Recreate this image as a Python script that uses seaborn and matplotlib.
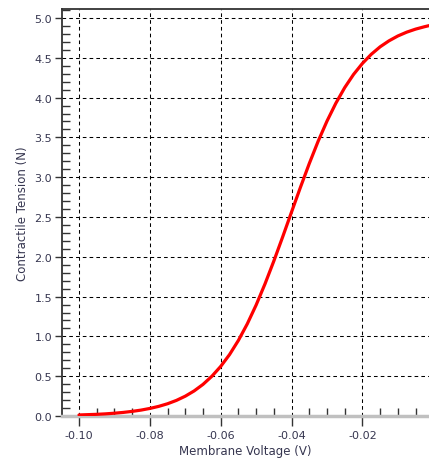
import matplotlib
matplotlib.use("Agg")
import matplotlib.pyplot as plt
import seaborn as sns
import pandas as pd
from matplotlib.ticker import MultipleLocator

# Data
voltage = [-0.1000, -0.0975, -0.0950, -0.0925, -0.0900, -0.0875, -0.0850, -0.0825,
           -0.0800, -0.0775, -0.0750, -0.0725, -0.0700, -0.0675, -0.0650, -0.0625,
           -0.0600, -0.0575, -0.0550, -0.0525, -0.0500, -0.0475, -0.0450, -0.0425,
           -0.0400, -0.0375, -0.0350, -0.0325, -0.0300, -0.0275, -0.0250, -0.0225,
           -0.0200, -0.0175, -0.0150, -0.0125, -0.0100, -0.0075, -0.0050, -0.0025,
           -0.0012]
tension = [0.013, 0.017, 0.021, 0.027, 0.035, 0.045, 0.058, 0.074,
           0.095, 0.121, 0.154, 0.196, 0.249, 0.315, 0.397, 0.499,
           0.623, 0.772, 0.950, 1.157, 1.394, 1.659, 1.947, 2.251,
           2.563, 2.872, 3.171, 3.451, 3.704, 3.929, 4.125, 4.291,
           4.429, 4.544, 4.638, 4.713, 4.774, 4.822, 4.860, 4.890,
           4.904]
x_ticks = [-0.10, -0.08, -0.06, -0.04, -0.02]
x_ticklabels = ["-0.10", "-0.08", "-0.06", "-0.04", "-0.02"]
y_ticks = [0.0, 0.5, 1.0, 1.5, 2.0, 2.5, 3.0, 3.5, 4.0, 4.5, 5.0]
y_ticklabels = ["0.0", "0.5", "1.0", "1.5", "2.0", "2.5", "3.0", "3.5", "4.0", "4.5", "5.0"]

df = pd.DataFrame({"Membrane Voltage (V)": voltage, "Contractile Tension (N)": tension})

sns.set_style("white")
plt.rcParams["font.family"] = ["DejaVu Sans"]
plt.rcParams["axes.unicode_minus"] = False

fig = plt.figure(figsize=(4.29, 4.60), dpi=100)
ax = fig.add_axes([62/429, 43/460, 367/429, 407/460])

sns.lineplot(data=df, x="Membrane Voltage (V)", y="Contractile Tension (N)",
             color="#ff0000", linewidth=2.3, ax=ax, zorder=5)

ax.set_xlim(-0.1048, -0.0012)
ax.set_ylim(0, 5.113)

ax.set_xticks(x_ticks)
ax.set_xticklabels(x_ticklabels)
ax.set_yticks(y_ticks)
ax.set_yticklabels(y_ticklabels)
ax.xaxis.set_minor_locator(MultipleLocator(0.005))
ax.yaxis.set_minor_locator(MultipleLocator(0.1))

lab_col = "#363650"
ax.tick_params(axis="x", which="major", direction="out", length=7, width=1,
               color="#333333", labelsize=8, labelcolor=lab_col, pad=3, bottom=True)
ax.tick_params(axis="x", which="minor", direction="in", length=6, width=1,
               color="#333333", bottom=True)
ax.tick_params(axis="y", which="major", direction="out", length=5, width=1,
               color="#333333", labelsize=8, labelcolor=lab_col, pad=2, left=True)
ax.tick_params(axis="y", which="minor", direction="in", length=6, width=1,
               color="#333333", left=True)

ax.grid(True, which="major", color="black", linestyle=(0, (3.5, 3)), linewidth=0.75)
ax.set_axisbelow(True)

for side in ["top", "left"]:
    ax.spines[side].set_visible(True)
    ax.spines[side].set_color("#333333")
    ax.spines[side].set_linewidth(1.3)
ax.spines["right"].set_visible(False)
ax.spines["bottom"].set_color("#c0c0c0")
ax.spines["bottom"].set_linewidth(2.5)

ax.set_xlabel("Membrane Voltage (V)", fontsize=8.5, color=lab_col, labelpad=3)
ax.set_ylabel("Contractile Tension (N)", fontsize=8.5, color=lab_col, labelpad=4)

fig.savefig("out.png", dpi=100)
